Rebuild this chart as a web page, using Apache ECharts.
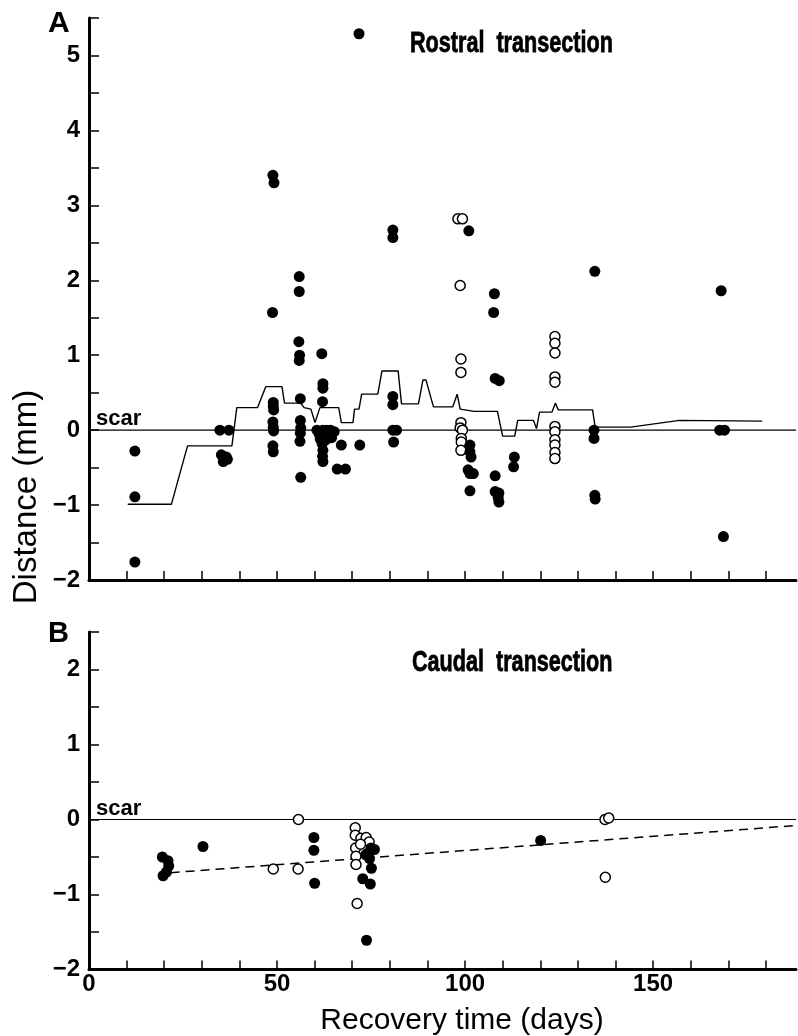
<!DOCTYPE html>
<html>
<head>
<meta charset="utf-8">
<script src="https://cdn.jsdelivr.net/npm/echarts@6/dist/echarts.min.js"></script>
<style>html,body{margin:0;padding:0;background:#fff;}#c{width:798px;height:1036px;}</style>
</head>
<body>
<div id="c"></div>
<script>
// ---- tick values ----
const xTicks = [10, 20, 30, 40, 50, 60, 70, 80, 90, 100, 110, 120, 130, 140, 150, 160, 170, 180];
const xLabels = [0, 50, 100, 150];
const yTicksA = [-2, -1.5, -1, -0.5, 0, 0.5, 1, 1.5, 2, 2.5, 3, 3.5, 4, 4.5, 5, 5.5];
const yLabelsA = [-2, -1, 0, 1, 2, 3, 4, 5];
const yTicksB = [-2, -1.5, -1, -0.5, 0, 0.5, 1, 1.5, 2, 2.5];
const yLabelsB = [-2, -1, 0, 1, 2];

// ---- Panel A: rostral transection ----
const rostralFilled = [
  [12.2, -0.28], [12.2, -0.89], [12.2, -1.76],
  [34.8, 0], [37.2, 0], [35.2, -0.33], [36.5, -0.36], [35.7, -0.42], [36.8, -0.39],
  [48.9, 3.4], [49.2, 3.3], [48.8, 1.57], [49, 0.37], [49, 0.32], [49.1, 0.27], [48.9, 0.11], [49, 0.04], [49.1, -0.01], [48.9, -0.21], [49, -0.29],
  [55.9, 2.05], [55.9, 1.85], [55.8, 1.18], [56, 1.0], [55.9, 0.93], [56.2, 0.42], [56.2, 0.13], [56.3, 0.03], [56.2, -0.04], [56.1, -0.15], [56.3, -0.63],
  [61.9, 1.02], [62.2, 0.62], [62.2, 0.56], [62.1, 0.38], [62.2, 0.0], [61.9, -0.08], [62, -0.18], [62.2, -0.27], [62.1, -0.35], [62.2, -0.42],
  [60.6, 0], [61.2, -0.05], [63.2, 0], [63.5, -0.08], [64.2, 0], [64.5, -0.1], [65.2, -0.02], [63, -0.13], [61.5, -0.12],
  [67.1, -0.2], [66, -0.52], [68.2, -0.52], [72, -0.2], [71.8, 5.29],
  [80.8, 2.67], [80.8, 2.57], [80.8, 0.45], [80.8, 0.34], [80.8, 0], [81.8, 0], [81, -0.16],
  [101, 2.66], [101.3, -0.2], [101.3, -0.29], [101.6, -0.36], [100.8, -0.53], [101.3, -0.58], [102.2, -0.58], [101.3, -0.81],
  [107.8, 1.82], [107.6, 1.57], [108, 0.69], [109.1, 0.66], [108, -0.61], [108, -0.82], [109, -0.84], [108.8, -0.9], [109, -0.96],
  [113.1, -0.36], [112.9, -0.49],
  [134.5, 2.12], [134.3, 0], [134.3, -0.11], [134.5, -0.87], [134.6, -0.92],
  [168.1, 1.86], [167.7, 0], [169, 0], [168.7, -1.42]
];
const rostralOpen = [
  [98.1, 2.82], [99.3, 2.82], [98.7, 1.93], [98.9, 0.95], [98.9, 0.77], [98.9, 0.1], [98.7, 0.03], [99.3, 0], [99, -0.11], [99, -0.16], [98.9, -0.27],
  [123.9, 1.25], [123.9, 1.16], [123.9, 1.03], [123.9, 0.71], [123.9, 0.64], [123.9, 0.05], [123.9, -0.02], [123.9, -0.13], [123.9, -0.2], [123.9, -0.3], [123.9, -0.38]
];
const rostralMean = [
  [10.3, -0.99], [21.9, -0.99], [26.2, -0.21], [38, -0.21], [39.3, 0.3], [44.8, 0.3], [47, 0.58], [51.3, 0.58],
  [52, 0.36], [56.3, 0.36], [57.2, 0.3], [59, 0.28], [60.1, 0.1], [61.4, 0.3], [66.4, 0.3], [67.1, 0.1], [70.2, 0.1],
  [70.6, 0.28], [71.8, 0.28], [72.5, 0.48], [76.8, 0.48], [77.9, 0.79], [82.2, 0.79], [83.1, 0.35], [87.6, 0.35],
  [88.8, 0.67], [89.6, 0.67], [91.6, 0.31], [96.7, 0.31], [97.9, 0.48], [98.7, 0.28], [102.5, 0.25], [108.6, 0.25],
  [110, -0.08], [113.2, -0.08], [114, 0.13], [118.2, 0.13], [119, 0.02], [119.8, 0.24], [123.1, 0.24], [124, 0.36],
  [124.8, 0.27], [133.9, 0.27], [134.6, 0.04], [144, 0.04], [157, 0.13], [179, 0.12]
];

// ---- Panel B: caudal transection ----
const caudalFilled = [
  [19.5, -0.5], [21, -0.55], [21.2, -0.62], [20.6, -0.7], [19.7, -0.75], [30.3, -0.36],
  [59.8, -0.24], [59.8, -0.41], [60, -0.85],
  [75, -0.38], [75.9, -0.4], [74.1, -0.45], [73.6, -0.47], [74.6, -0.52], [75.1, -0.65], [72.8, -0.79], [74.8, -0.86], [73.8, -1.61],
  [120.1, -0.28]
];
const caudalOpen = [
  [49, -0.66], [55.7, 0], [55.6, -0.66],
  [70.8, -0.11], [70.8, -0.21], [72.3, -0.25], [73.7, -0.24], [74.5, -0.3], [70.9, -0.38], [72.2, -0.33], [71, -0.49], [71, -0.6], [71.3, -1.12],
  [137.2, 0], [138.2, 0.02], [137.3, -0.77]
];
const caudalFit = [[21.7, -0.71], [188, -0.08]];
const scarLine = [[0, 0], [188, 0]];

const FONT = "'Liberation Sans', Arial, sans-serif";
const minus = v => String(v).replace('-', '\u2212');

function xAxisCfg(grid, showLabels) {
  return {
    gridIndex: grid, type: 'value', min: 0, max: 188,
    axisLine: { onZero: false, lineStyle: { color: '#000', width: 3 } },
    axisTick: { inside: true, length: 9, customValues: xTicks, lineStyle: { color: '#000', width: 1.5 } },
    axisLabel: showLabels ? { customValues: xLabels, color: '#000', fontSize: 24, fontWeight: 'bold', fontFamily: FONT, margin: 3 } : { show: false },
    splitLine: { show: false }
  };
}
function yAxisCfg(grid, max, ticks, labels) {
  return {
    gridIndex: grid, type: 'value', min: -2, max: max,
    axisLine: { onZero: false, lineStyle: { color: '#000', width: 3 } },
    axisTick: { inside: true, length: 10, customValues: ticks, lineStyle: { color: '#000', width: 1.5 } },
    axisLabel: { customValues: labels, color: '#000', fontSize: 24, fontWeight: 'bold', fontFamily: FONT, margin: 9, formatter: minus },
    splitLine: { show: false }
  };
}
function scatter(xi, data, open) {
  return {
    type: 'scatter', xAxisIndex: xi, yAxisIndex: xi, data: data,
    symbol: 'circle', symbolSize: open ? 10 : 11, z: open ? 3 : 4,
    itemStyle: open ? { color: '#fff', borderColor: '#000', borderWidth: 1.5, opacity: 1 } : { color: '#000', opacity: 1 },
    silent: true
  };
}
function line(xi, data, width, dash, z) {
  return {
    type: 'line', xAxisIndex: xi, yAxisIndex: xi, data: data, showSymbol: false, symbol: 'none',
    lineStyle: { color: '#000', width: width, type: dash || 'solid' }, z: z || 2, silent: true
  };
}

const TITLE_FONT = "bold 30px " + FONT;
const chart = echarts.init(document.getElementById('c'));
chart.setOption({
  animation: false,
  backgroundColor: '#fff',
  grid: [
    { left: 89, top: 18, width: 707, height: 562 },
    { left: 89, top: 632, width: 707, height: 337.5 }
  ],
  xAxis: [xAxisCfg(0, false), xAxisCfg(1, true)],
  yAxis: [yAxisCfg(0, 5.5, yTicksA, yLabelsA), yAxisCfg(1, 2.5, yTicksB, yLabelsB)],
  series: [
    line(0, scarLine, 1.2),
    line(0, rostralMean, 1.4),
    scatter(0, rostralOpen, true),
    scatter(0, rostralFilled, false),
    line(1, scarLine, 1.2),
    line(1, caudalFit, 1.5, [9, 6]),
    scatter(1, caudalOpen, true),
    scatter(1, caudalFilled, false)
  ],
  graphic: [
    { type: 'text', left: 48, top: 9, style: { text: 'A', font: "bold 30px " + FONT, fill: '#000' } },
    { type: 'text', left: 48, top: 619, style: { text: 'B', font: "bold 29px " + FONT, fill: '#000' } },
    { type: 'text', x: 410, y: 44, scaleX: 0.72, style: { text: 'Rostral  transection', font: TITLE_FONT, fill: '#000', stroke: '#000', lineWidth: 0.8, verticalAlign: 'middle' } },
    { type: 'text', x: 412, y: 663, scaleX: 0.72, style: { text: 'Caudal  transection', font: TITLE_FONT, fill: '#000', stroke: '#000', lineWidth: 0.8, verticalAlign: 'middle' } },
    { type: 'text', x: 96, y: 419, style: { text: 'scar', font: "bold 22px " + FONT, fill: '#000', verticalAlign: 'middle' } },
    { type: 'text', x: 96, y: 809, style: { text: 'scar', font: "bold 22px " + FONT, fill: '#000', verticalAlign: 'middle' } },
    { type: 'text', x: 462, y: 1021, style: { text: 'Recovery time (days)', font: "30px " + FONT, fill: '#000', align: 'center', verticalAlign: 'middle' } },
    { type: 'text', x: 27, y: 497, rotation: Math.PI / 2, style: { text: 'Distance (mm)', font: "33px " + FONT, fill: '#000', align: 'center', verticalAlign: 'middle' } }
  ]
});
</script>
</body>
</html>
